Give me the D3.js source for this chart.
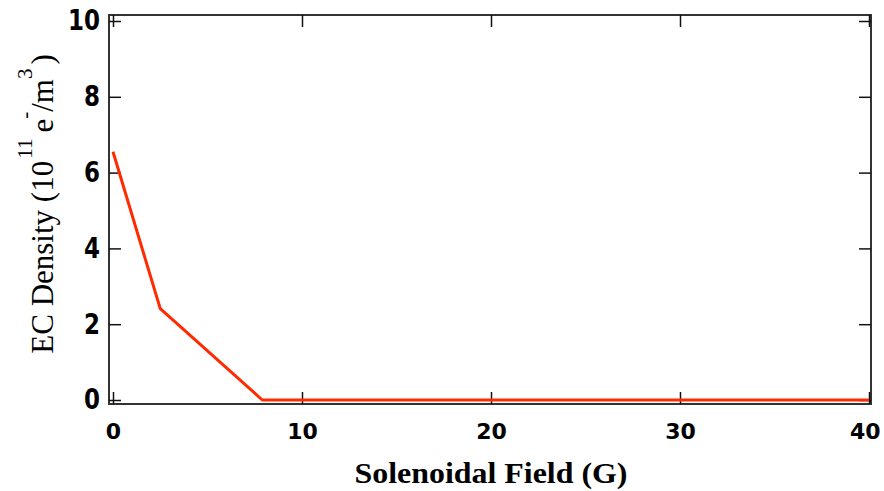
<!DOCTYPE html>
<html>
<head>
<meta charset="utf-8">
<script src="https://cdn.jsdelivr.net/npm/d3@7"></script>
<style>
  html, body { margin: 0; padding: 0; background: #fff; }
  svg { display: block; }
</style>
</head>
<body>
<svg id="chart" width="884" height="491"></svg>
<script>
// Electron-cloud density versus applied solenoidal field
const fieldG = [0, 2.5, 7.9, 40];
const densityE11 = [6.55, 2.41, 0, 0];
const xTicks = [0, 10, 20, 30, 40];
const yTicks = [0, 2, 4, 6, 8, 10];

const svg = d3.select("#chart");
const frame = { left: 109, right: 871, top: 15, bottom: 404 };

const x = d3.scaleLinear().domain([0, 40]).range([113, 869]);
const y = d3.scaleLinear().domain([0, 10]).range([400, 21]);

// plot frame
svg.append("rect")
  .attr("x", frame.left).attr("y", frame.top)
  .attr("width", frame.right - frame.left)
  .attr("height", frame.bottom - frame.top)
  .attr("fill", "none").attr("stroke", "#333").attr("stroke-width", 2);

const tickFont = "'DejaVu Sans', sans-serif";

function styleAxis(g, size) {
  g.select(".domain").remove();
  g.selectAll(".tick line").attr("stroke", "#111").attr("stroke-width", 1.5);
  g.selectAll(".tick text")
    .attr("fill", "#000")
    .style("font-family", tickFont)
    .style("font-weight", "bold")
    .style("font-size", size + "px");
}

// left axis with labels (taller glyphs)
const gl = svg.append("g").attr("transform", `translate(${frame.left},0)`)
  .call(d3.axisLeft(y).tickValues(yTicks).tickSizeInner(-12).tickSizeOuter(0).tickPadding(9)
    .tickFormat(d3.format("d")));
styleAxis(gl, 23);
gl.selectAll(".tick text").attr("transform", "scale(1,1.22)");

// bottom axis with labels
const gb = svg.append("g").attr("transform", `translate(0,${frame.bottom})`)
  .call(d3.axisBottom(x).tickValues(xTicks).tickSizeInner(-12).tickSizeOuter(0).tickPadding(19)
    .tickFormat(d3.format("d")));
styleAxis(gb, 22);
// keep the last label inside the page
gb.selectAll(".tick text").filter(d => d === 40)
  .attr("text-anchor", "end").attr("x", 11);

// top and right mirror ticks
const gt = svg.append("g").attr("transform", `translate(0,${frame.top})`)
  .call(d3.axisTop(x).tickValues(xTicks).tickSizeInner(-12).tickSizeOuter(0).tickFormat(""));
styleAxis(gt, 22);
const gr = svg.append("g").attr("transform", `translate(${frame.right},0)`)
  .call(d3.axisRight(y).tickValues(yTicks).tickSizeInner(-12).tickSizeOuter(0).tickFormat(""));
styleAxis(gr, 22);

// density curve
const line = d3.line().x((d, i) => x(fieldG[i])).y(d => y(d));
svg.append("path")
  .datum(densityE11)
  .attr("d", line)
  .attr("fill", "none")
  .attr("stroke", "#ff2a00")
  .attr("stroke-width", 3)
  .attr("stroke-linejoin", "round");

// x-axis title
svg.append("text")
  .attr("x", 491).attr("y", 483)
  .attr("text-anchor", "middle")
  .attr("textLength", 273)
  .attr("lengthAdjust", "spacingAndGlyphs")
  .style("font-family", "'Liberation Serif', serif")
  .style("font-weight", "bold")
  .style("font-size", "29px")
  .text("Solenoidal Field (G)");

// y-axis title with superscripts
const yt = svg.append("text")
  .attr("transform", "translate(53,204) rotate(-90)")
  .attr("text-anchor", "middle")
  .style("font-family", "'Liberation Serif', serif")
  .style("font-size", "31px")
  .attr("fill", "#000");
yt.append("tspan").text("EC Density (10");
yt.append("tspan").attr("dy", -21).attr("dx", 2).style("font-size", "21px").text("11");
yt.append("tspan").attr("dy", 21).attr("dx", 6).text("e");
yt.append("tspan").attr("dy", -21).style("font-size", "21px").text("-");
yt.append("tspan").attr("dy", 21).text("/m");
yt.append("tspan").attr("dy", -21).style("font-size", "21px").text("3");
yt.append("tspan").attr("dy", 21).attr("dx", 4).text(")");
</script>
</body>
</html>
